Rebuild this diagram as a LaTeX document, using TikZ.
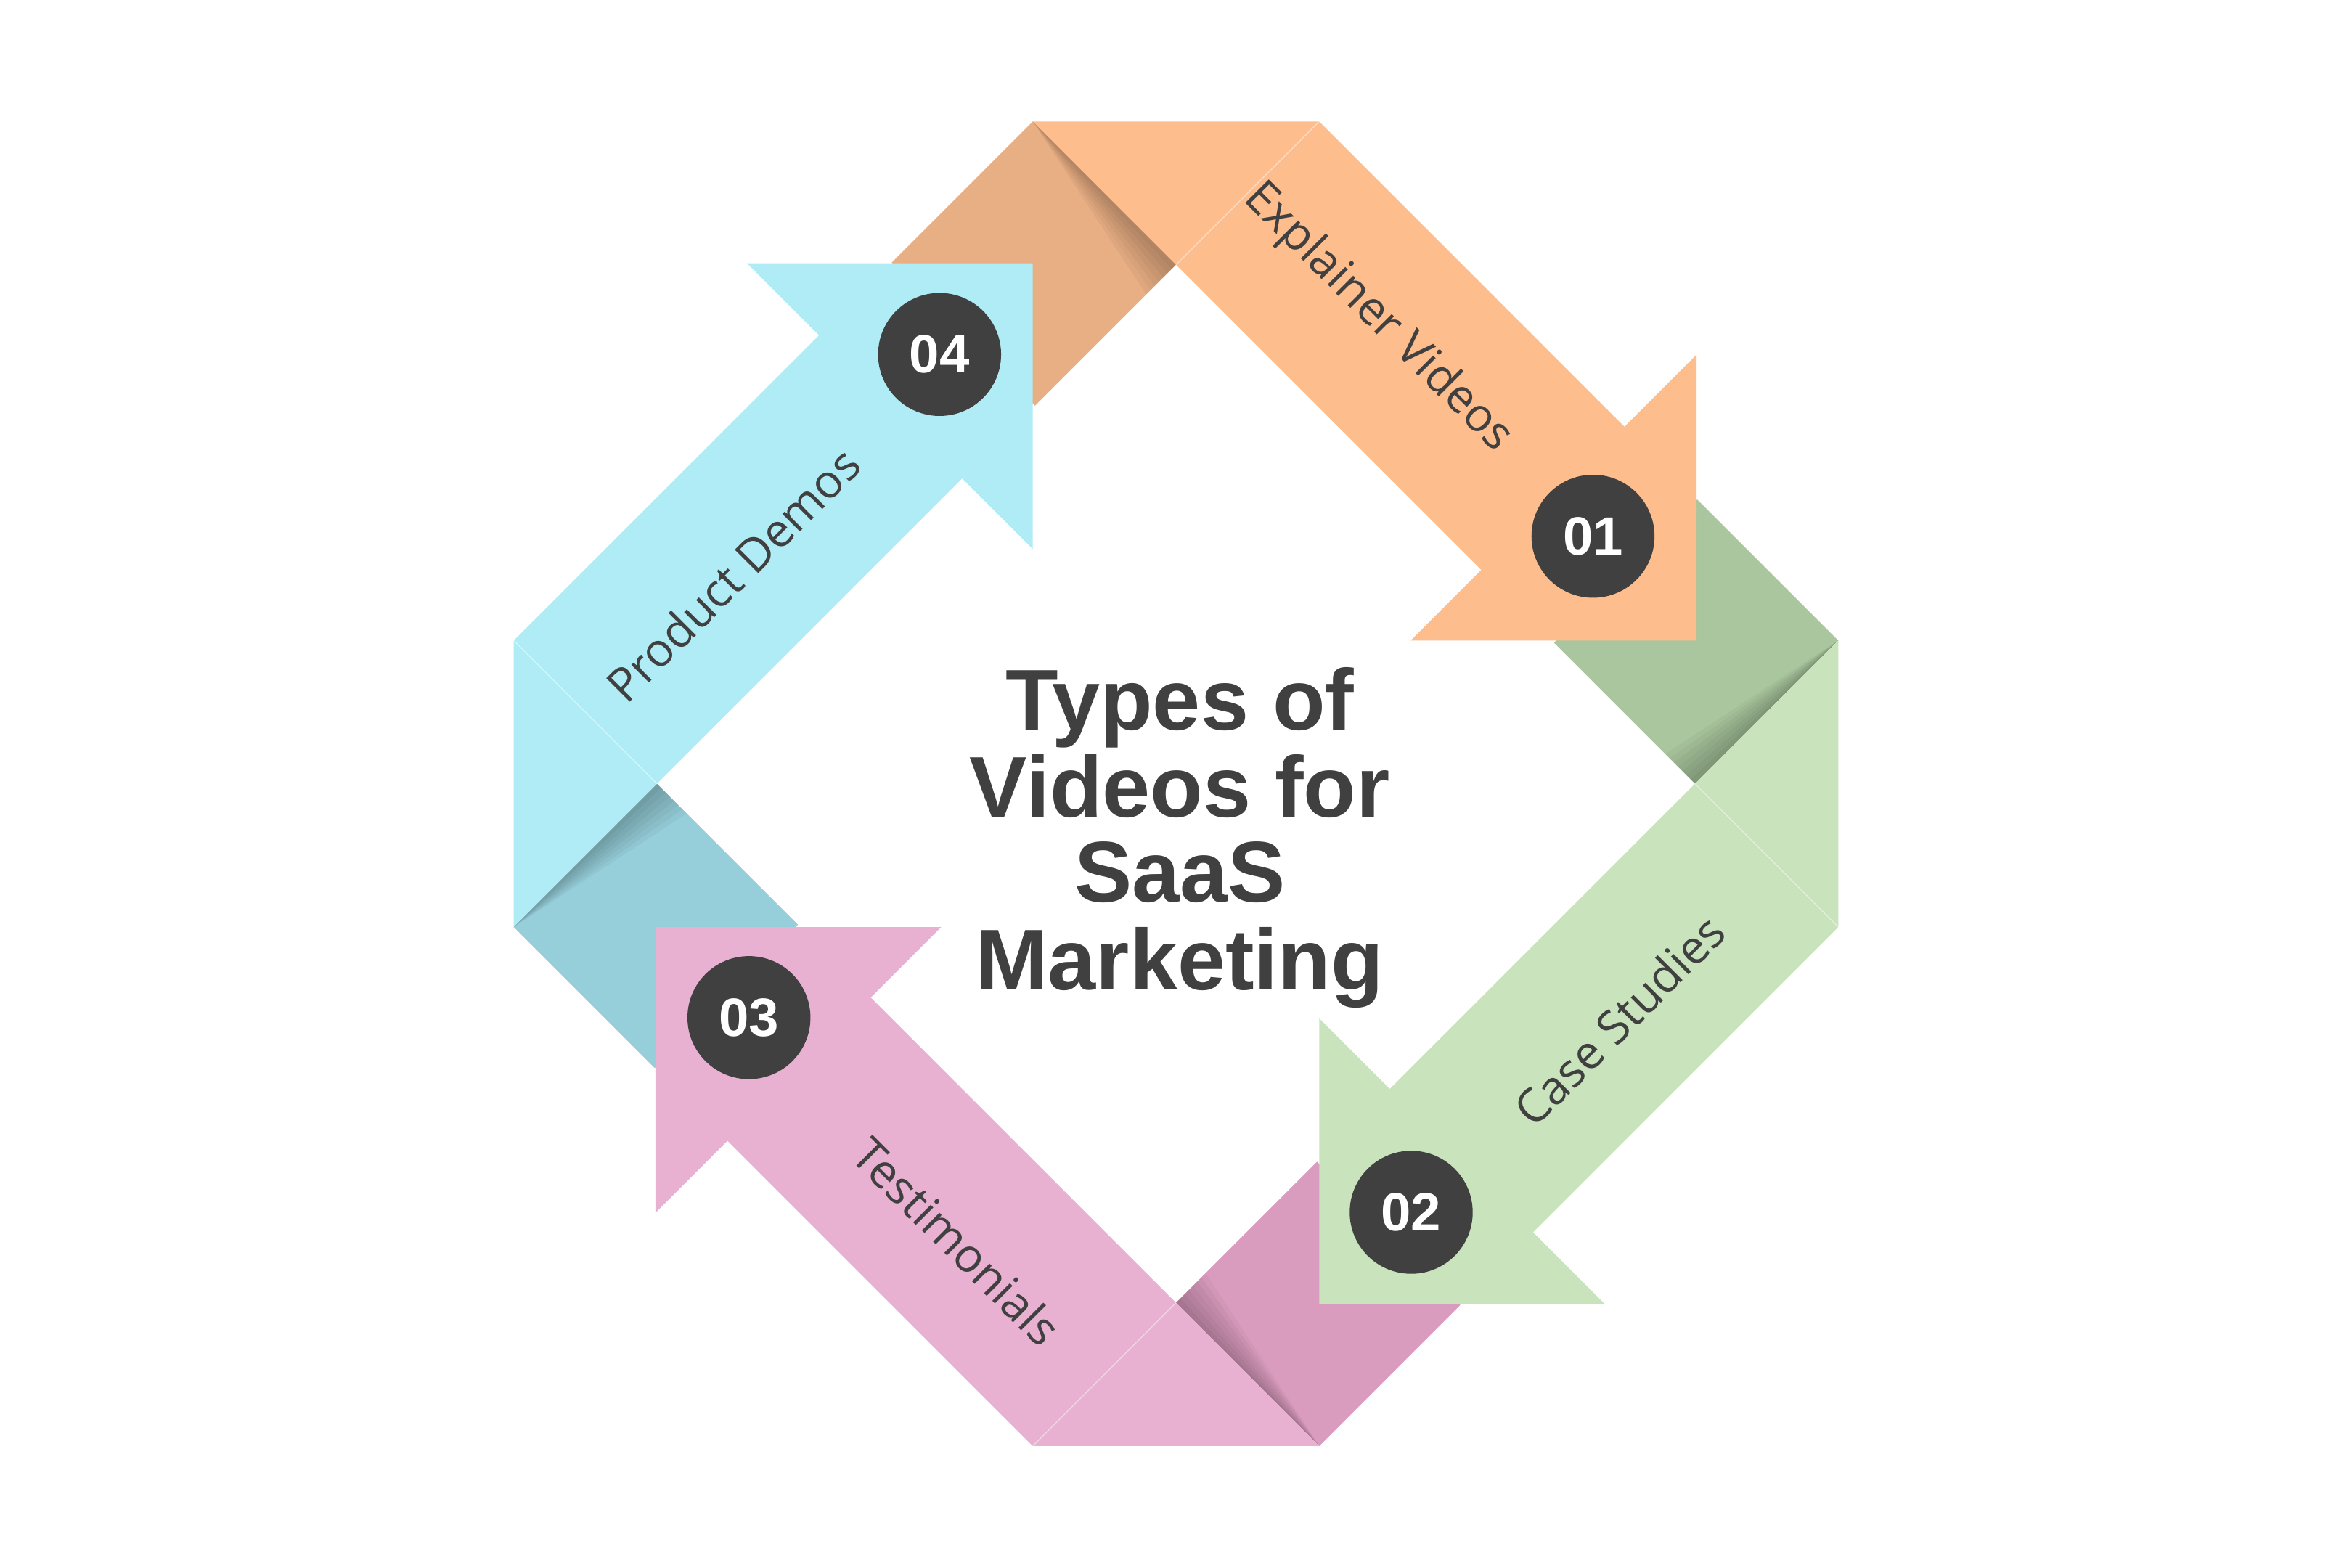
\documentclass[tikz,border=0pt]{standalone}
\usepackage{fontspec}
\setmainfont{Liberation Sans}
\newfontfamily\lblfont{Open Sans}
\definecolor{txt}{HTML}{404040}
\definecolor{orL}{HTML}{FEBD8D}
\definecolor{orD}{HTML}{E8AE84}
\definecolor{grL}{HTML}{C9E3BC}
\definecolor{grD}{HTML}{A9C69E}
\definecolor{piL}{HTML}{E8B0D1}
\definecolor{piD}{HTML}{DA9CBE}
\definecolor{blL}{HTML}{B0ECF6}
\definecolor{blD}{HTML}{96CED9}
\tikzset{
  num/.style={circle, fill=txt, minimum size=82pt, inner sep=0pt, text=white,
    font=\bfseries\fontsize{36}{36}\selectfont},
  lbl/.style={text=txt, inner sep=0pt, font=\lblfont\fontsize{31}{31}\selectfont},
  crease/.style={white, opacity=0.45, line width=0.7pt}
}
\begin{document}
\begin{tikzpicture}[x=1pt,y=1pt]
\useasboundingbox (-784,-522.5) rectangle (784,522.5);
\fill[white] (-784,-522.5) rectangle (784,522.5);
% dark fold pieces with shadow
\foreach \ang/\dk in {0/orD,-90/grD,-180/piD,-270/blD}{
  \begin{scope}[rotate=\ang]
    \fill[\dk] (-95.5,441.5) -- (0,346) -- (-94,252) -- (-189.5,347.5) -- cycle;
    \foreach \k in {4,8,12,16,20,24,28}{
      \fill[black, opacity=0.035] (-95.5,441.5) -- (0,346) -- ({-\k*0.707},{346-\k*0.707}) -- cycle;
    }
  \end{scope}
}
% light arrows
\foreach \ang/\lt in {0/orL,-90/grL,-180/piL,-270/blL}{
  \begin{scope}[rotate=\ang]
    \fill[\lt] (-95.5,441.5) -- (95.5,441.5) -- (299,238) -- (347,286) -- (347,95.5)
      -- (156.5,95.5) -- (203.5,142.5) -- cycle;
    \draw[crease] (95.5,441.5) -- (0,346);
  \end{scope}
}
% labels
\node[lbl, rotate=-45] (l1) at (134.5,310.5) {Explainer Videos};
\node[lbl, rotate=45] (l2) at (295.4,-157.5) {Case Studies};
\node[lbl, rotate=-45] (l3) at (-146,-305) {Testimonials};
\node[lbl, rotate=45] (l4) at (-295.5,139.5) {Product Demos};
% numbers
\node[num] (n1) at (278,165) {01};
\node[num] (n2) at (156.8,-285.7) {02};
\node[num] (n3) at (-284.7,-155.9) {03};
\node[num] (n4) at (-157.6,286.2) {04};
% title
\node[anchor=base, inner sep=0pt, text=txt] (title) at (2.6,36.1)
  {\fontsize{57.5}{55.5}\selectfont\bfseries\setlength{\tabcolsep}{0pt}%
   \begin{tabular}[t]{c}Types of\\Videos for\\SaaS\\Marketing\end{tabular}};
\end{tikzpicture}
\end{document}
